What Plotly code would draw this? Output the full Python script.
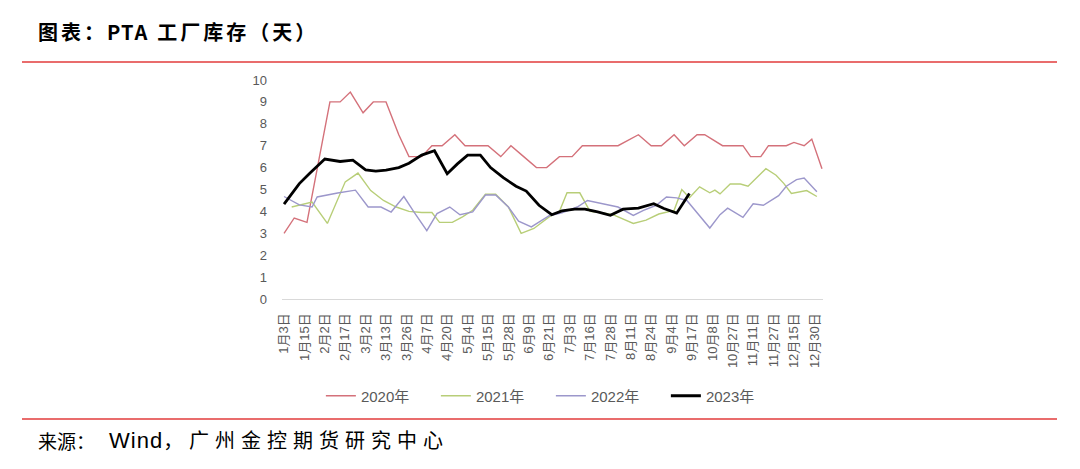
import plotly.graph_objects as go

# ---- data -------------------------------------------------------------
tick_labels = ["1月3日", "1月15日", "2月2日", "2月17日", "3月2日", "3月13日", "3月26日",
               "4月7日", "4月20日", "5月4日", "5月15日", "5月28日", "6月9日", "6月21日",
               "7月3日", "7月16日", "7月28日", "8月11日", "8月24日", "9月4日", "9月17日",
               "10月8日", "10月27日", "11月11日", "11月27日", "12月15日", "12月30日"]
SLOTS_PER_LABEL = 4  # each labelled date spans 4 steps on the horizontal axis

# horizontal positions (axis steps) and inventory days for each year
x2020 = [0, 2, 4.5, 9, 11, 13, 15.5, 17.5, 20, 22.5, 24.5, 27, 29, 31, 33.5, 35.5, 38, 40,
         42.5, 44.5, 47, 49.5, 51.5, 54, 56.5, 58.5, 61, 63.5, 65.5, 69.5, 72, 74, 76.5,
         78.5, 81, 82.5, 86, 90, 91.5, 93.5, 95, 98.5, 100, 102, 103.5, 105.5]
y2020 = [3.0, 3.7, 3.5, 9.0, 9.0, 9.45, 8.5, 9.0, 9.0, 7.5, 6.5, 6.5, 7.0, 7.0, 7.5, 7.0,
         7.0, 7.0, 6.5, 7.0, 6.5, 6.0, 6.0, 6.5, 6.5, 7.0, 7.0, 7.0, 7.0, 7.5, 7.0, 7.0,
         7.5, 7.0, 7.5, 7.5, 7.0, 7.0, 6.5, 6.5, 7.0, 7.0, 7.15, 7.0, 7.3, 5.95]

x2021 = [1.5, 4, 5.5, 8.5, 12, 14.5, 17, 19.5, 22, 24.5, 27, 29, 30.5, 33, 35, 37, 39.5,
         41.5, 44, 46.5, 49, 52, 54, 55.5, 58, 60, 62, 64.5, 68.5, 71, 73.5, 76.5, 78,
         79.5, 81.5, 83.5, 84.5, 85.5, 87.5, 89.5, 91, 94.5, 96.5, 98, 99.5, 102.5, 104.5]
y2021 = [4.2, 4.33, 4.43, 3.45, 5.35, 5.75, 4.95, 4.5, 4.2, 4.0, 3.95, 3.95, 3.5, 3.5,
         3.75, 4.05, 4.78, 4.78, 4.2, 3.0, 3.22, 3.75, 4.0, 4.85, 4.85, 4.0, 3.95, 3.85,
         3.45, 3.6, 3.88, 4.05, 5.0, 4.62, 5.12, 4.85, 4.97, 4.8, 5.25, 5.25, 5.15, 5.95,
         5.65, 5.28, 4.82, 4.95, 4.68]

x2022 = [0, 3, 5.5, 6.5, 10.5, 14, 16.5, 19, 21, 23.5, 25.5, 28, 30, 32.5, 34.5, 37, 39.5,
         41.5, 44, 46, 48.5, 52, 54.5, 57.5, 59.5, 63.5, 65.5, 68.5, 70.5, 73, 75, 77, 79,
         83.5, 85.5, 87, 90, 92, 94, 97, 98.5, 100.5, 102, 104.5]
y2022 = [4.68, 4.3, 4.2, 4.66, 4.84, 4.97, 4.2, 4.2, 3.97, 4.68, 3.97, 3.12, 3.9, 4.2,
         3.85, 3.98, 4.75, 4.75, 4.2, 3.55, 3.29, 3.8, 3.93, 4.2, 4.5, 4.28, 4.2, 3.82,
         4.05, 4.28, 4.66, 4.62, 4.5, 3.24, 3.85, 4.15, 3.73, 4.35, 4.28, 4.72, 5.15,
         5.45, 5.52, 4.9]

x2023 = [0, 3, 5, 8, 11, 13.5, 16, 18, 20, 22.5, 24.5, 27, 29.5, 32, 34, 36, 38.5, 40.5,
         43, 45.5, 47.5, 50, 52.5, 54.5, 57, 59, 61.5, 64, 66.5, 69.5, 72.5, 74.5, 77, 79.5]
y2023 = [4.33, 5.27, 5.73, 6.39, 6.28, 6.34, 5.9, 5.84, 5.88, 6.0, 6.2, 6.57, 6.77, 5.72,
         6.17, 6.57, 6.57, 6.0, 5.54, 5.15, 4.93, 4.28, 3.85, 4.02, 4.1, 4.1, 3.98, 3.82,
         4.1, 4.15, 4.35, 4.13, 3.92, 4.82]

series_names = ["2020年", "2021年", "2022年", "2023年"]
title_head = "图表："
title_code = "PTA"
title_tail = "工厂库存（天）"
source_head = "来源："
source_name = "Wind"
source_tail = "，广州金控期货研究中心"

# ---- figure -----------------------------------------------------------
colors = ["#d4717a", "#b8ce78", "#9c97cb", "#000000"]
widths = [1.4, 1.4, 1.4, 2.8]
xs = [x2020, x2021, x2022, x2023]
ys = [y2020, y2021, y2022, y2023]

fig = go.Figure()
for name, x, y, c, w in zip(series_names, xs, ys, colors, widths):
    fig.add_trace(go.Scatter(x=x, y=y, mode="lines", name=name,
                             line=dict(color=c, width=w), hoverinfo="skip"))

CJK = "Liberation Sans, Noto Sans CJK SC, sans-serif"
fig.update_layout(
    width=1080, height=469,
    margin=dict(l=282, r=257, t=80, b=170),
    paper_bgcolor="white", plot_bgcolor="white",
    showlegend=True,
    legend=dict(orientation="h", x=0.497, xanchor="center", y=-0.443, yanchor="middle",
                font=dict(family=CJK, size=15, color="#595959"),
                itemwidth=30, entrywidth=70, entrywidthmode="pixels",
                bgcolor="rgba(0,0,0,0)"),
    xaxis=dict(range=[-0.4, 105.7],
               tickmode="array",
               tickvals=[i * SLOTS_PER_LABEL for i in range(len(tick_labels))],
               ticktext=tick_labels, tickangle=-90,
               tickfont=dict(family=CJK, size=13, color="#595959"),
               showgrid=False, zeroline=False, showline=True,
               linecolor="#d9d9d9", linewidth=1, ticks="", ticklabelstandoff=8),
    yaxis=dict(range=[0, 10], dtick=1, tick0=0,
               tickfont=dict(family="Liberation Sans, sans-serif", size=13, color="#595959"),
               showgrid=False, zeroline=False, showline=False, ticks="",
               ticklabelstandoff=14),
)

# header / footer rules
fig.add_shape(type="line", xref="paper", yref="paper",
              x0=(22 - 282) / 541, x1=(1057 - 282) / 541,
              y0=(299 - 62) / 219, y1=(299 - 62) / 219,
              line=dict(color="#e23b3b", width=1.5))
fig.add_shape(type="line", xref="paper", yref="paper",
              x0=(22 - 282) / 541, x1=(1057 - 282) / 541,
              y0=(299 - 419) / 219, y1=(299 - 419) / 219,
              line=dict(color="#e23b3b", width=1.5))

fig.add_annotation(xref="paper", yref="paper", x=(36 - 282) / 541, y=(299 - 31) / 219,
                   xanchor="left", yanchor="middle", showarrow=False,
                   text=('<span style="letter-spacing:3px">' + title_head + '</span>'
                         + '<span style="letter-spacing:1px">' + title_code[:-1] + '</span>'
                         + '<span style="letter-spacing:10px">' + title_code[-1] + '</span>'
                         + '<span style="letter-spacing:3px">' + title_tail + '</span>'),
                   font=dict(family="Noto Sans CJK SC, sans-serif", size=20,
                             color="#000000", weight="bold"))
fig.add_annotation(xref="paper", yref="paper", x=(36 - 282) / 541, y=(299 - 440) / 219,
                   xanchor="left", yanchor="middle", showarrow=False,
                   text=source_head,
                   font=dict(family="Noto Sans CJK SC, sans-serif", size=19, color="#000000"))
fig.add_annotation(xref="paper", yref="paper", x=(107 - 282) / 541, y=(299 - 440) / 219,
                   xanchor="left", yanchor="middle", showarrow=False,
                   text=('<span style="font-size:22px;letter-spacing:1px">' + source_name
                         + '</span><span style="letter-spacing:6px">' + source_tail + "</span>"),
                   font=dict(family="Liberation Sans, Noto Sans CJK SC, sans-serif",
                             size=20, color="#000000"))

fig.write_html("out.html")
